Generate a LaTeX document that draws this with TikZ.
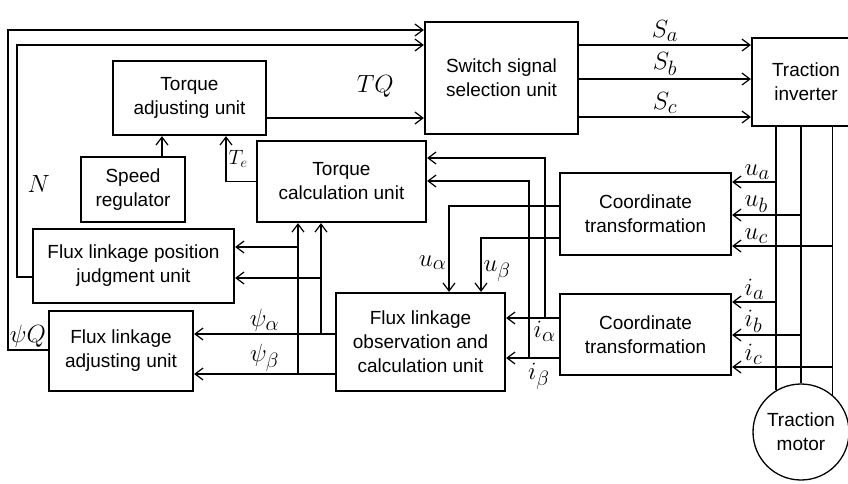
\documentclass[tikz,border=0pt]{standalone}
\usepackage{fontspec}
\setmainfont{Liberation Sans}
\usetikzlibrary{arrows.meta}

\begin{document}
\begin{tikzpicture}[x=1pt, y=-1pt,
    font=\fontsize{19}{24}\selectfont,
    unit/.style={draw, line width=2.2pt, align=center, inner sep=0pt},
    sig/.style={line width=1.2pt, -{Straight Barb[length=8pt,width=12pt]}},
    wire/.style={line width=1.2pt},
    lbl/.style={font=\fontsize{24.88}{28}\selectfont, inner sep=2pt}]
        \useasboundingbox (0,0) rectangle (848,483);

        % Blocks:
        \node[unit, minimum width=153pt, minimum height=112pt] (sw) at (501.5,78) {Switch signal\\selection unit};
        \node[unit, minimum width=108pt, minimum height=88pt] (inv) at (806,82) {Traction\\inverter};
        \node[unit, minimum width=153pt, minimum height=74pt] (tadj) at (189.5,98) {Torque\\adjusting unit};
        \node[unit, minimum width=104pt, minimum height=65pt] (speed) at (133,189.5) {Speed\\regulator};
        \node[unit, minimum width=169pt, minimum height=81pt] (tcalc) at (341.5,181.5) {Torque\\calculation unit};
        \node[unit, minimum width=201pt, minimum height=74pt] (fpos) at (133.5,266) {Flux linkage position\\judgment unit};
        \node[unit, minimum width=144pt, minimum height=80pt] (fadj) at (121,351) {Flux linkage\\adjusting unit};
        \node[unit, minimum width=169pt, minimum height=98pt] (fobs) at (420.5,342) {Flux linkage\\observation and\\calculation unit};
        \node[unit, minimum width=171pt, minimum height=82pt] (ct1) at (645.5,214) {Coordinate\\transformation};
        \node[unit, minimum width=171pt, minimum height=81pt] (ct2) at (645.5,334.5) {Coordinate\\transformation};
        \node[draw, circle, line width=1.3pt, minimum size=96pt, inner sep=0pt, align=center] (mot) at (801,432) {Traction\\motor};

        % Branch points:
        \coordinate (tia) at (545,318);
        \coordinate (tib) at (529,358);
        \coordinate (tpa) at (321,334);
        \coordinate (tpb) at (298,374);
        \coordinate (tpa2) at (321,278);
        \coordinate (tpb2) at (298,247);

        % Switch signals:
        \draw[sig] (sw.east |- 0,45) -- node[lbl, above=1pt] {$S_a$} (inv.west |- 0,45);
        \draw[sig] (sw.east |- 0,79) -- node[lbl, above=1pt] {$S_b$} (inv.west |- 0,79);
        \draw[sig] (sw.east |- 0,117) -- node[lbl, above=1pt] {$S_c$} (inv.west |- 0,117);

        % Inverter to motor:
        \foreach \a in {121,90,50}{%
        \draw[wire] (inv.south -| mot.\a) -- (mot.\a);
        }

        % Measured voltages and currents:
        \foreach \lbl/\a/\y/\blk in {u_a/121/182/ct1, u_b/90/215/ct1, u_c/50/246/ct1,
                                   i_a/121/302/ct2, i_b/90/335/ct2, i_c/50/367/ct2}{%
        \draw[sig] (mot.\a |- 0,\y) -- (\blk.east |- 0,\y) node[lbl, anchor=south west, xshift=10pt] {$\lbl$};
        }

        % Coordinate transformation outputs:
        \draw[sig] (ct1.west |- 0,206) -| node[lbl, pos=0.83, left] {$u_\alpha$} (fobs.north -| 449,0);
        \draw[sig] (ct1.west |- 0,238) -| node[lbl, pos=0.81, right] {$u_\beta$} (fobs.north -| 481,0);
        \draw[sig] (ct2.west |- tia) -- node[lbl, pos=0.27, below=1pt] {$i_\alpha$} (fobs.east |- tia);
        \draw[sig] (ct2.west |- tib) -- node[lbl, pos=0.38, below=3pt] {$i_\beta$} (fobs.east |- tib);
        \draw[sig] (tia) |- (tcalc.east |- 0,158);
        \draw[sig] (tib) |- (tcalc.east |- 0,181);

        % Flux linkage outputs:
        \draw[sig] (fobs.west |- tpa) -- node[lbl, above] {$\psi_\alpha$} (fadj.east |- tpa);
        \draw[sig] (fobs.west |- tpb) -- node[lbl, above] {$\psi_\beta$} (fadj.east |- tpb);
        \draw[sig] (tpa) -- (tcalc.south -| tpa);
        \draw[sig] (tpb) -- (tcalc.south -| tpb);
        \draw[sig] (tpb2) -- (fpos.east |- tpb2);
        \draw[sig] (tpa2) -- (fpos.east |- tpa2);

        % Torque loop:
        \draw[sig] (speed.north -| 162,0) -- (tadj.south -| 162,0);
        \draw[sig] (tcalc.west) -| node[pos=0.75, right, font=\fontsize{20.74}{24}\selectfont, inner sep=2pt] {$T_e$} (tadj.south -| 226,0);
        \draw[sig] (tadj.east |- 0,118) -- node[lbl, pos=0.69, above=18pt] {$TQ$} (sw.west |- 0,118);

        % Feedback to switch selection:
        \draw[sig] (fpos.west |- 0,277) -- (17,277) -- node[lbl, pos=0.4, right=8pt] {$N$} (17,45) -- (sw.west |- 0,45);
        \draw[sig] (fadj.west |- 0,350) -- node[lbl, above] {$\psi Q$} (8,350) -- (8,30) -- (sw.west |- 0,30);

    \end{tikzpicture}
\end{document}
